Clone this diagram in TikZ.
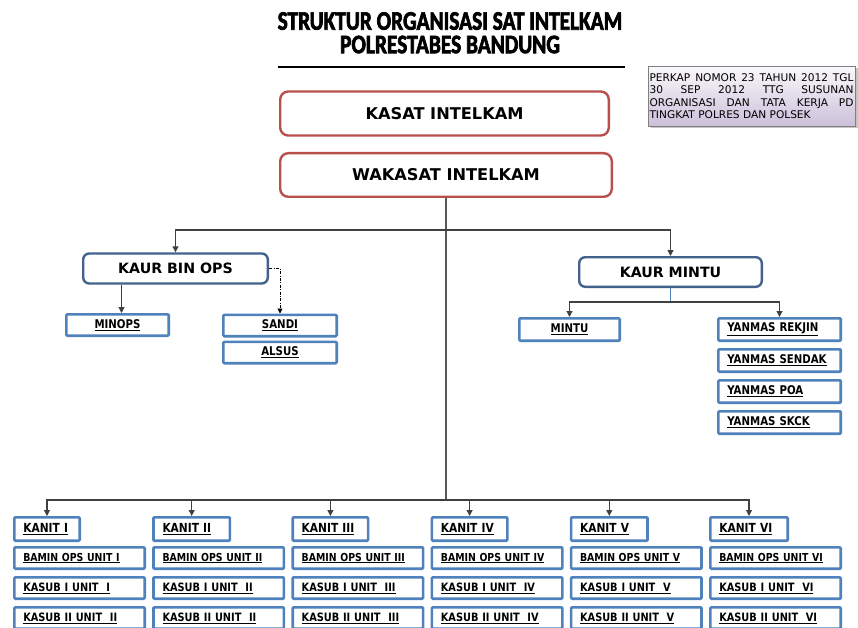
\documentclass[tikz,border=0pt]{standalone}
\usepackage{fontspec}
\setmainfont{DejaVu Sans}
\newfontfamily\narrowfont{DejaVu Sans}[FakeStretch=0.85]
\newfontfamily\titlefont{Carlito}[FakeStretch=0.8,FakeBold=2.5]
\usetikzlibrary{arrows.meta,positioning,shadows}
\definecolor{kasatred}{RGB}{185,80,78}
\definecolor{kaurblue}{RGB}{66,98,140}
\definecolor{unitblue}{RGB}{79,129,189}
\definecolor{notelilac}{RGB}{204,192,218}
\definecolor{linkgray}{RGB}{64,64,64}

\begin{document}
\begin{tikzpicture}[x=1pt,y=-1pt,
node distance=6pt,
kasat/.style={draw=kasatred,line width=2.4pt,rounded corners=8pt,fill=white,minimum height=44pt,font=\bfseries\fontsize{16.2}{19}\selectfont},
kaur/.style={draw=kaurblue,line width=2.4pt,rounded corners=6pt,fill=white,minimum height=30pt,font=\bfseries\fontsize{14.2}{17}\selectfont},
unit/.style={draw=unitblue,line width=2.6pt,rounded corners=1pt,fill=white,minimum height=21.4pt,inner xsep=9pt,inner ysep=1pt,font=\narrowfont\bfseries\fontsize{12}{14}\selectfont},
unitl/.style={unit,text width=#1,align=left},
heading/.style={font=\titlefont\bfseries\fontsize{26.7}{23.5}\selectfont,inner sep=0pt,align=center},
note/.style={draw=gray,line width=0.8pt,top color=white!90!notelilac,bottom color=notelilac,drop shadow={shadow xshift=2.5pt,shadow yshift=-2.5pt,fill=black!45},text width=204pt,minimum height=60pt,inner xsep=1.5pt,inner ysep=3pt,align=justify,font=\fontsize{10.6}{12.3}\selectfont},
arrow/.style={-{Triangle[length=6pt,width=6pt]},draw=linkgray,line width=1.1pt},
link/.style={draw=gray!70!black,line width=1.1pt},
dotlink/.style={-{Triangle[length=5pt,width=5pt]},draw=black,line width=0.7pt,dash pattern=on 3pt off 1.5pt on 0.8pt off 1.5pt}]
\useasboundingbox (0,0) rectangle (858,628);
\clip (0,0) rectangle (858,628);

% title
\node[heading] (title) at (450,32.8) {STRUKTUR ORGANISASI SAT INTELKAM\\POLRESTABES BANDUNG};
\draw[line width=2.4pt] (278,67) -- (625,67);

\node[note] (perkap) at (751.5,96) {PERKAP NOMOR 23 TAHUN 2012 TGL\linebreak 30 SEP 2012 TTG SUSUNAN\linebreak ORGANISASI DAN TATA KERJA PD\linebreak TINGKAT POLRES DAN POLSEK};

% pimpinan
\node[kasat,minimum width=328.6pt] (kasat) at (444.5,113.5) {KASAT INTELKAM};
\node[kasat,minimum width=331.6pt,minimum height=43.6pt] (wakasat) at (446,175) {WAKASAT INTELKAM};

% kaur
\node[kaur,minimum width=184.6pt] (binops) at (175.5,268.5) {KAUR BIN OPS};
\node[kaur,minimum width=182.6pt,minimum height=29.6pt] (mintuhead) at (670.5,272) {KAUR MINTU};

\node[unit,minimum width=102.4pt] (minops) at (117.5,325) {\underline{MINOPS}};
\node[unit,minimum width=113.4pt] (sandi) at (280,325.5) {\underline{SANDI}};
\node[unit,minimum width=113.4pt,below=3pt of sandi] (alsus) {\underline{ALSUS}};

\node[unit,minimum width=100.4pt,minimum height=22.4pt] (mintu) at (569.5,329.5) {\underline{MINTU}};
\node[unitl=104.4pt,minimum height=22.4pt,anchor=north west] (rekjin) at (717,317) {\underline{YANMAS REKJIN}};
\node[unitl=104.4pt,minimum height=22.4pt,below=6pt of rekjin] (sendak) {\underline{YANMAS SENDAK}};
\node[unitl=104.4pt,minimum height=22.4pt,below=6pt of sendak] (poa) {\underline{YANMAS POA}};
\node[unitl=104.4pt,minimum height=22.4pt,below=6pt of poa] (skck) {\underline{YANMAS SKCK}};

% unit columns
\foreach \n/\k/\w [count=\i from 0,evaluate=\w as \tw using \w-20.6] in {I/II/68,II/II/79,III/III/78,IV/IV/78,V/V/79,VI/VI/80}{
  \node[unitl=\tw pt,minimum height=23.4pt,anchor=north west,font=\narrowfont\bfseries\fontsize{12.5}{14}\selectfont] (kanit\i) at (13+139.2*\i,516) {\underline{KANIT \n}};
  \node[unitl=112.4pt,below right=4pt and 0pt of kanit\i.south west,font=\narrowfont\bfseries\fontsize{11}{13}\selectfont] (bamin\i) {\underline{BAMIN OPS UNIT \n}};
  \node[unitl=112.4pt,below=6pt of bamin\i,font=\narrowfont\bfseries\fontsize{11.5}{13}\selectfont] (kasubI\i) {\underline{KASUB I UNIT\ \ \n}};
  \node[unitl=112.4pt,below=6pt of kasubI\i,font=\narrowfont\bfseries\fontsize{11.5}{13}\selectfont] (kasubII\i) {\underline{KASUB II UNIT\ \ \k}};
}

% connectors
\coordinate (fork) at (wakasat.south |- 0,230);
\coordinate (bus) at (wakasat.south |- 0,500);
\draw[link] (wakasat.south) -- (bus);
\draw[arrow] (fork) -| (binops.north);
\draw[arrow] (fork) -| (mintuhead.north);
\foreach \i in {0,...,5}{
  \draw[arrow] (bus) -| (kanit\i.north);
}
\coordinate (minopstop) at ([xshift=4pt]minops.north);
\draw[arrow] (minopstop |- binops.south) -- (minopstop);
\draw[dotlink] (binops.east) -| (sandi.north);
\coordinate (mintufork) at ([yshift=-14pt]mintuhead.south);
\draw[draw=unitblue,line width=1pt] (mintuhead.south) -- (mintufork);
\draw[arrow] (mintufork) -| (mintu.north);
\draw[arrow] (mintufork) -| (rekjin.north);
\end{tikzpicture}
\end{document}
